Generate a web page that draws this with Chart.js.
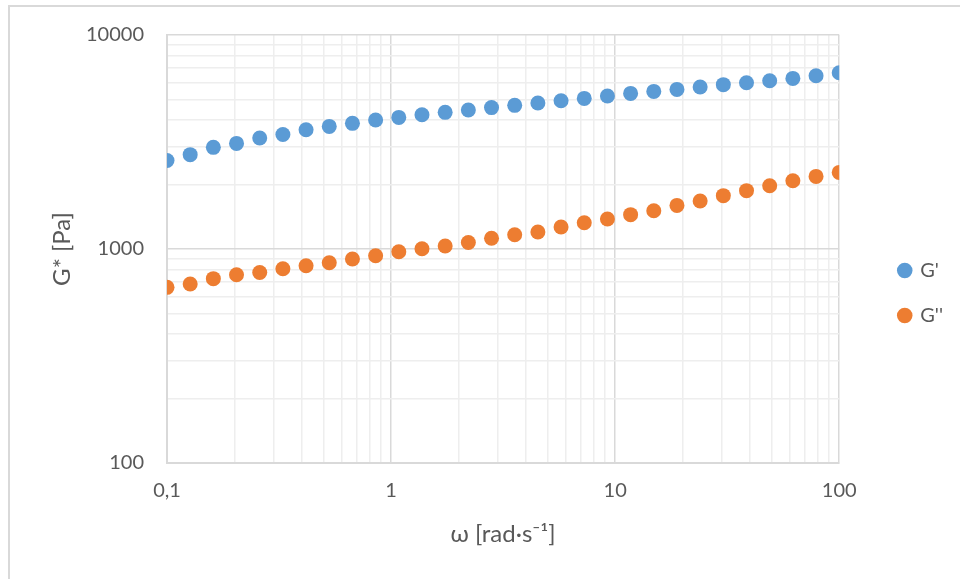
<!DOCTYPE html>
<html>
<head>
<meta charset="utf-8">
<script src="https://cdn.jsdelivr.net/npm/chart.js@4"></script>
<style>
  html, body { margin: 0; padding: 0; background: #fff; }
  #wrap { position: relative; width: 960px; height: 579px; overflow: hidden; }
  #frame {
    position: absolute; left: 8px; top: 5px; width: 1000px; height: 620px;
    border-left: 2px solid #d9d9d9; border-top: 2px solid #d9d9d9;
    pointer-events: none;
  }
  canvas { position: absolute; left: 0; top: 0; }
</style>
</head>
<body>
<div id="wrap">
  <canvas id="chart" width="960" height="579"></canvas>
  <div id="frame"></div>
</div>
<script>
'use strict';

// angular frequency [rad/s]
const omega = [
  0.1, 0.1269, 0.1610, 0.2043, 0.2593, 0.3290, 0.4175, 0.5298, 0.6723, 0.8532,
  1.0826, 1.3738, 1.7433, 2.2122, 2.8072, 3.5622, 4.5204, 5.7362, 7.2790, 9.2367,
  11.721, 14.874, 18.874, 23.950, 30.392, 38.566, 48.939, 62.102, 78.805, 100
];
const gPrime = [
  2590, 2760, 2985, 3115, 3300, 3430, 3610, 3740, 3865, 4005,
  4120, 4240, 4350, 4460, 4580, 4690, 4810, 4930, 5055, 5190,
  5335, 5450, 5570, 5715, 5860, 5985, 6115, 6270, 6455, 6665
];
const gDoublePrime = [
  662, 686, 727, 758, 777, 809, 835, 863, 898, 930,
  971, 1003, 1033, 1073, 1123, 1166, 1200, 1267, 1327, 1381,
  1447, 1510, 1599, 1676, 1775, 1873, 1976, 2085, 2184, 2280
];

// grid positions and labelled ticks
const xGrid = [
  0.1, 0.2, 0.3, 0.4, 0.5, 0.6, 0.7, 0.8, 0.9,
  1, 2, 3, 4, 5, 6, 7, 8, 9,
  10, 20, 30, 40, 50, 60, 70, 80, 90, 100
];
const yGrid = [
  100, 200, 300, 400, 500, 600, 700, 800, 900,
  1000, 2000, 3000, 4000, 5000, 6000, 7000, 8000, 9000, 10000
];
const xLabelValues = [0.1, 1, 10, 100];
const xLabelTexts = ['0,1', '1', '10', '100'];
const yLabelValues = [100, 1000, 10000];
const yLabelTexts = ['100', '1000', '10000'];

const FONT = 'Lato, "Open Sans", sans-serif';
const TEXT = '#595959';

function toPoints(xs, ys) {
  return xs.map((x, i) => ({ x, y: ys[i] }));
}

function labelFor(values, texts, v) {
  const i = values.findIndex((d) => Math.abs(d - v) / d < 1e-6);
  return i >= 0 ? texts[i] : '';
}

function isDecade(v) {
  const l = Math.log10(v);
  return Math.abs(l - Math.round(l)) < 1e-6;
}

function gridColor(ctx) {
  return ctx.tick && isDecade(ctx.tick.value) ? '#d9d9d9' : '#eeeeee';
}

// empty box between plot and legend, keeps the legend off the plot edge
const legendGap = {
  id: 'legendGap',
  beforeInit(chart) {
    Chart.layouts.addBox(chart, {
      position: 'right',
      weight: 500,
      fullSize: false,
      options: {},
      width: 0,
      height: 0,
      update(maxWidth, maxHeight) {
        this.width = 35;
        this.height = maxHeight;
      },
      isHorizontal() {
        return false;
      },
      draw() {}
    });
  }
};

new Chart(document.getElementById('chart'), {
  type: 'scatter',
  data: {
    datasets: [
      {
        label: "G'",
        data: toPoints(omega, gPrime),
        backgroundColor: '#5b9bd5',
        borderColor: '#5b9bd5',
        borderWidth: 0,
        pointRadius: 7.5,
        pointHoverRadius: 7.5
      },
      {
        label: "G''",
        data: toPoints(omega, gDoublePrime),
        backgroundColor: '#ed7d31',
        borderColor: '#ed7d31',
        borderWidth: 0,
        pointRadius: 7.5,
        pointHoverRadius: 7.5
      }
    ]
  },
  plugins: [legendGap],
  options: {
    responsive: false,
    animation: false,
    devicePixelRatio: 1,
    layout: {
      padding: { left: 0, top: 35, right: 7, bottom: 28 }
    },
    plugins: {
      tooltip: { enabled: false },
      legend: {
        position: 'right',
        labels: {
          color: TEXT,
          font: { family: FONT, size: 20 },
          usePointStyle: true,
          pointStyle: 'circle',
          boxWidth: 11,
          boxHeight: 11,
          padding: 25
        }
      }
    },
    scales: {
      x: {
        type: 'logarithmic',
        min: 0.1,
        max: 100,
        afterBuildTicks(scale) {
          scale.ticks = xGrid.map((v) => ({ value: v }));
        },
        afterFit(scale) {
          scale.height = 88;
        },
        border: { color: '#d9d9d9', width: 2 },
        grid: { color: gridColor, lineWidth: 1.5, drawTicks: false },
        ticks: {
          autoSkip: false,
          maxRotation: 0,
          padding: 16,
          color: TEXT,
          font: { family: FONT, size: 20 },
          callback(value) {
            return labelFor(xLabelValues, xLabelTexts, value);
          }
        },
        title: {
          display: true,
          text: 'ω [rad·s⁻¹]',
          color: TEXT,
          font: { family: FONT, size: 24 },
          padding: { top: 2, bottom: 2 }
        }
      },
      y: {
        type: 'logarithmic',
        min: 100,
        max: 10000,
        afterBuildTicks(scale) {
          scale.ticks = yGrid.map((v) => ({ value: v }));
        },
        afterFit(scale) {
          scale.width = 167;
        },
        border: { color: '#d9d9d9', width: 2 },
        grid: { color: gridColor, lineWidth: 1.5, drawTicks: false },
        ticks: {
          autoSkip: false,
          padding: 23,
          color: TEXT,
          font: { family: FONT, size: 20 },
          callback(value) {
            return labelFor(yLabelValues, yLabelTexts, value);
          }
        },
        title: {
          display: true,
          text: 'G* [Pa]',
          color: TEXT,
          font: { family: FONT, size: 24 },
          padding: { top: 48, bottom: 48 }
        }
      }
    }
  }
});
</script>
</body>
</html>
